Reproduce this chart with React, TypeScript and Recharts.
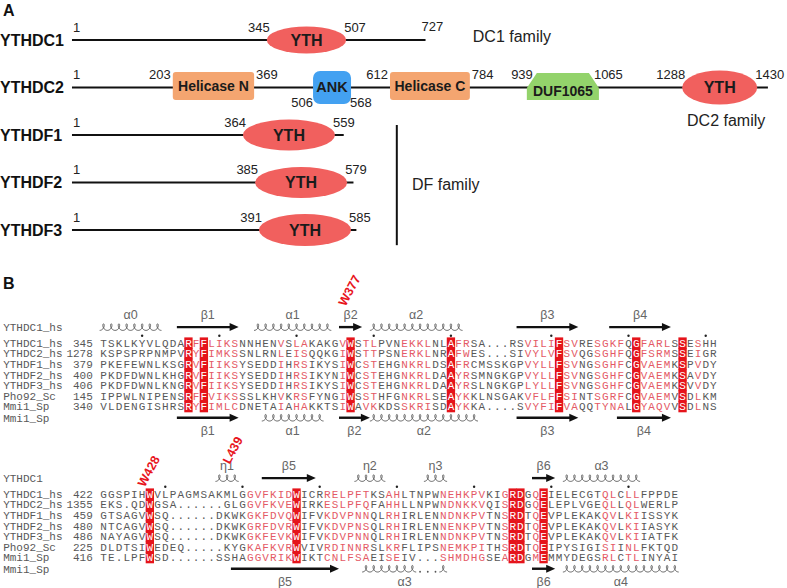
import React from 'react';
import { ScatterChart, Scatter, XAxis, YAxis, ReferenceLine } from 'recharts';

// ---------------- panel A : domain architecture ----------------
const proteinNames = ['YTHDC1', 'YTHDC2', 'YTHDF1', 'YTHDF2', 'YTHDF3'];
const proteinLengths = [727, 1430, 559, 579, 585];

const domainRows = [0, 1, 1, 1, 1, 1, 2, 3, 4];
const domainNames = ['YTH', 'Helicase N', 'ANK', 'Helicase C', 'DUF1065', 'YTH', 'YTH', 'YTH', 'YTH'];
const domainFirst = [345, 203, 506, 612, 939, 1288, 364, 385, 391];
const domainLast = [507, 369, 568, 784, 1065, 1430, 559, 579, 585];
// extent of each box as it is drawn in the figure (residue units, not strictly to scale)
const domainDrawFrom = [401, 208, 496, 654, 935, 1254, 352, 377, 385];
const domainDrawTo = [564, 375, 574, 818, 1083, 1408, 541, 566, 574];

const familyNames = ['DC1 family', 'DC2 family', 'DF family'];
const familyX = [824, 1264, 699];
const familyRow = [-0.08, 1.68, 3.03];
const dfBracketX = 668;
const dfBracketRows = [1.79, 4.32];

// ---------------- panel B : alignment ----------------
const seqNames = ['YTHDC1_hs', 'YTHDC2_hs', 'YTHDF1_hs', 'YTHDF2_hs', 'YTHDF3_hs', 'Pho92_Sc', 'Mmi1_Sp'];

const block1First = [345, 1278, 379, 400, 406, 145, 340];
const block1Seqs = [
  'TSKLKYVLQDARFFLIKSNNHENVSLAKAKGVWSTLPVNEKKLNLAFRSA...RSVILIFSVRESGKFQGFARLSSESHH',
  'KSPSPRPNMPVRYFIMKSSNLRNLEISQQKGIWSTTPSNERKLNRAFWES...SIVYLVFSVQGSGHFQGFSRMSSEIGR',
  'PKEFEWNLKSGRVFIIKSYSEDDIHRSIKYSIWCSTEHGNKRLDSAFRCMSSKGPVYLLFSVNGSGHFCGVAEMKSPVDY',
  'PKDFDWNLKHGRVFIIKSYSEDDIHRSIKYNIWCSTEHGNKRLDAAYRSMNGKGPVYLLFSVNGSGHFCGVAEMKSAVDY',
  'PKDFDWNLKNGRVFIIKSYSEDDIHRSIKYSIWCSTEHGNKRLDAAYRSLNGKGPLYLLFSVNGSGHFCGVAEMKSVVDY',
  'IPPWLNIPENSRFFVIKSSSLKHVKRSFYNGIWSSTHFGNKRLSEAYKKLNSGAKVFLFFSINTSGRFCGVAEMVSDLKM',
  'VLDENGISHRSRYFIMLCDNETAIAHAKKTSIWAVKKDSSKRISDAYKKA....SVYFIFVAQQTYNALGYAQVVSDLNS',
];
const block1Strict = [11, 13, 32, 45, 59, 69, 75];
const block1Similar = [12, 14, 15, 16, 17, 23, 25, 26, 31, 34, 35, 39, 40, 41, 42, 46, 47, 55, 56, 57, 58, 60, 61, 64, 65, 66, 67, 70, 71, 72, 73, 77];
const block1Dots = [5, 15, 25, 35, 45, 58, 68, 78];
const block1TopSS: [string, number, number, string][] = [
  ['helix', 0, 7, 'α0'], ['arrow', 10, 17, 'β1'], ['helix', 20, 29, 'α1'], ['arrow', 31, 33, 'β2'],
  ['helix', 35, 46, 'α2'], ['arrow', 54, 61, 'β3'], ['arrow', 66, 73, 'β4'],
];
const block1BottomSS: [string, number, number, string][] = [
  ['arrow', 10, 17, 'β1'], ['helix', 21, 28, 'α1'], ['arrow', 31, 34, 'β2'], ['helix', 35, 48, 'α2'],
  ['arrow', 54, 61, 'β3'], ['arrow', 67, 73, 'β4'],
];
const block1Marks: [number, string][] = [[32, 'W377']];

const block2First = [422, 1355, 459, 480, 486, 225, 416];
const block2Seqs = [
  'GGSPIHWVLPAGMSAKMLGGVFKIDWICRRELPFTKSAHLTNPWNEHKPVKIGRDGQEIELECGTQLCLLFPPDE',
  'EKS.QDWGSA......GLGGVFKVEWIRKESLPFQFAHHLLNPWNDNKKVQISRDGQELEPLVGEQLLQLWERLP',
  'GTSAGVWSQ......DKWKGKFDVQWIFVKDVPNNQLRHIRLENNDNKPVTNSRDTQEVPLEKAKQVLKIISSYK',
  'NTCAGVWSQ......DKWKGRFDVRWIFVKDVPNSQLRHIRLENNENKPVTNSRDTQEVPLEKAKQVLKIIASYK',
  'NAYAGVWSQ......DKWKGKFEVKWIFVKDVPNNQLRHIRLENNDNKPVTNSRDTQEVPLEKAKQVLKIIATFK',
  'DLDTSIWEDEQ.....KYGKAFKVRWVIVRDINNRSLKRFLIPSNEMKPITHSRDTQEIPYSIGISIINLFKTQD',
  'TE.LPFWSD......SSHAGGVRIKWIKTCNLFSAEISEIV...SHMDHGSEARDGMEMMYDEGSRLCTLINYAI',
];
const block2Strict = [6, 25, 53, 54, 57];
const block2Similar = [19, 20, 21, 22, 23, 24, 29, 30, 31, 32, 33, 34, 37, 38, 44, 45, 46, 47, 48, 49, 52, 56, 65, 66, 68, 69];
const block2Dots = [8, 18, 28, 38, 48, 58, 68];
const block2TopSS: [string, number, number, string][] = [
  ['helix', 15, 17, 'η1'], ['arrow', 21, 27, 'β5'], ['helix', 33, 36, 'η2'], ['helix', 42, 44, 'η3'],
  ['arrow', 56, 58, 'β6'], ['helix', 60, 69, 'α3'],
];
const block2BottomSS: [string, number, number, string][] = [
  ['arrow', 17, 30, 'β5'], ['helixgap', 34, 44, 'α3'], ['arrow', 56, 58, 'β6'], ['helix', 60, 74, 'α4'],
];
const block2Gap = [41, 43];
const block2Marks: [number, string][] = [[6, 'W428'], [17, 'L439']];

// ---------------- styling ----------------
const SANS = "'Liberation Sans', Arial, sans-serif";
const MONO = "'Liberation Mono', monospace";
const YTH_FILL = '#f1605e';
const HELI_FILL = '#f4a570';
const ANK_FILL = '#43a1f1';
const DUF_FILL = '#93d36b';
const HL_RED = '#e5141b';
const PINK = '#e45a66';
const GREY = '#585858';
const YTH_RY = [13.5, 17, 15.5, 15.5, 16]; // ellipse half-height per row, as drawn

const A_X: [number, number] = [-146.8, 1469.2];
const A_Y: [number, number] = [-0.842, 4.632];
const B_X: [number, number] = [-13.41, 88.53];
const ROW_PX = 10.6;
const CELL_W = 7.72;

// ---------------- panel A glyphs ----------------
const DomainGlyph = (p: any) => {
  const { x1, x2, y1, name, row } = p;
  const cx = (x1 + x2) / 2;
  const w = x2 - x1;
  if (name === 'YTH') {
    return (
      <g>
        <ellipse cx={cx} cy={y1} rx={w / 2} ry={YTH_RY[row]} fill={YTH_FILL} />
        <text x={cx} y={y1 + 6} textAnchor="middle" fontFamily={SANS} fontWeight="bold" fontSize={16} fill="#1b1b1b">{name}</text>
      </g>
    );
  }
  if (name === 'ANK') {
    return (
      <g>
        <rect x={x1} y={y1 - 16.5} width={w} height={33} rx={7} fill={ANK_FILL} />
        <text x={cx} y={y1 + 5} textAnchor="middle" fontFamily={SANS} fontWeight="bold" fontSize={14.5} fill="#1b1b1b">{name}</text>
      </g>
    );
  }
  if (name.startsWith('DUF')) {
    const t = y1 - 14.5, b = y1 + 12.5;
    const pts = `${x1},${b} ${x1},${t + 15} ${x1 + 10},${t} ${x2 - 10},${t} ${x2},${t + 15} ${x2},${b}`;
    return (
      <g>
        <polygon points={pts} fill={DUF_FILL} />
        <text x={cx} y={y1 + 9} textAnchor="middle" fontFamily={SANS} fontWeight="bold" fontSize={14} fill="#1b1b1b">{name}</text>
      </g>
    );
  }
  return (
    <g>
      <rect x={x1} y={y1 - 15.5} width={w} height={28} rx={3} fill={HELI_FILL} />
      <text x={cx} y={y1 + 3.5} textAnchor="middle" fontFamily={SANS} fontWeight="bold" fontSize={14} fill="#1b1b1b">{name}</text>
    </g>
  );
};

const NumLabel = (p: any) => {
  const { cx, cy, payload } = p;
  return (
    <text x={cx + payload.dx} y={cy + payload.dy} textAnchor={payload.anchor} fontFamily={SANS} fontSize={13} fill="#222">
      {payload.text}
    </text>
  );
};

const RowName = (p: any) => (
  <text x={p.cx} y={p.cy + 6} fontFamily={SANS} fontWeight="bold" fontSize={16} fill="#111">{p.payload.name}</text>
);

const FamilyLabel = (p: any) => (
  <text x={p.cx} y={p.cy + 6} fontFamily={SANS} fontSize={16} fill="#222">{p.payload.name}</text>
);

const numberLabels = (() => {
  const out: any[] = [];
  proteinNames.forEach((_, i) => out.push({ x: 1, y: i, text: '1', anchor: 'start', dx: 1, dy: -8 }));
  domainNames.forEach((name, i) => {
    const below = name === 'ANK';
    const ell = name === 'YTH';
    const duf = name.startsWith('DUF');
    out.push({ x: domainDrawFrom[i], y: domainRows[i], text: String(domainFirst[i]), anchor: 'end',
      dx: below ? 0 : ell ? 3 : duf ? 6 : -2, dy: below ? 20 : -8 });
    out.push({ x: domainDrawTo[i], y: domainRows[i], text: String(domainLast[i]), anchor: 'start',
      dx: below ? -1 : ell ? -2 : duf ? -5 : 2, dy: below ? 20 : -8 });
  });
  proteinLengths.forEach((len, i) => {
    const closed = domainLast.some((v, j) => domainRows[j] === i && v === len);
    if (!closed) out.push({ x: len, y: i, text: String(len), anchor: 'start', dx: -4, dy: -9 });
  });
  return out;
})();

const PanelA = () => (
  <ScatterChart width={787} height={260} margin={{ top: 0, right: 0, bottom: 0, left: 0 }}>
    <XAxis type="number" dataKey="x" domain={A_X} hide allowDataOverflow />
    <YAxis type="number" dataKey="y" domain={A_Y} hide reversed allowDataOverflow />
    {proteinLengths.map((len, i) => (
      <ReferenceLine key={`bb${i}`} segment={[{ x: 1, y: i }, { x: len, y: i }]} stroke="#111" strokeWidth={2} />
    ))}
    {domainNames.map((name, i) => (
      <ReferenceLine
        key={`d${i}`}
        segment={[{ x: domainDrawFrom[i], y: domainRows[i] }, { x: domainDrawTo[i], y: domainRows[i] }]}
        shape={(p: any) => <DomainGlyph {...p} name={name} row={domainRows[i]} />}
      />
    ))}
    <ReferenceLine segment={[{ x: dfBracketX, y: dfBracketRows[0] }, { x: dfBracketX, y: dfBracketRows[1] }]} stroke="#111" strokeWidth={2} />
    <Scatter data={proteinNames.map((name, i) => ({ x: A_X[0], y: i, name }))} shape={RowName} isAnimationActive={false} />
    <Scatter data={numberLabels} shape={NumLabel} isAnimationActive={false} />
    <Scatter data={familyNames.map((name, i) => ({ x: familyX[i], y: familyRow[i], name }))} shape={FamilyLabel} isAnimationActive={false} />
  </ScatterChart>
);

// ---------------- panel B glyphs ----------------
const helixPath = (x1: number, x2: number, y: number) => {
  const n = Math.max(1, Math.round((x2 - x1) / CELL_W));
  const a = (x2 - x1) / n / (2 * Math.PI);
  const bx = 2.3, by = 3.3;
  let d = '';
  const steps = n * 24;
  for (let i = 0; i <= steps; i++) {
    const t = Math.PI + (i / 24) * 2 * Math.PI;
    const x = x1 + a * (t - Math.PI) - bx * Math.sin(t);
    const yy = y - by * Math.cos(t);
    d += (i === 0 ? 'M' : 'L') + x.toFixed(2) + ',' + yy.toFixed(2);
  }
  return d;
};

const SSGlyph = (p: any) => {
  const { x1, x2, y1, kind, label, below, gap } = p;
  const ly = below ? y1 + 17 : y1 - 8;
  const lab = label ? (
    <text x={(x1 + x2) / 2} y={ly} textAnchor="middle" fontFamily={SANS} fontSize={12.5} fill="#666">{label}</text>
  ) : null;
  if (kind === 'arrow') {
    return (
      <g>
        <line x1={x1} y1={y1} x2={x2 - 7} y2={y1} stroke="#111" strokeWidth={2.4} />
        <polygon points={`${x2 - 9},${y1 - 4} ${x2},${y1} ${x2 - 9},${y1 + 4}`} fill="#111" />
        {lab}
      </g>
    );
  }
  if (kind === 'helixgap' && gap) {
    const colW = (x2 - x1) / (p.to - p.from + 1);
    const g1 = x1 + (gap[0] - p.from) * colW;
    const g2 = x1 + (gap[1] - p.from + 1) * colW;
    return (
      <g>
        <path d={helixPath(x1, g1, y1)} fill="none" stroke="#555" strokeWidth={0.9} />
        {[0, 1, 2].map((k) => (
          <circle key={k} cx={g1 + colW * (k + 0.5)} cy={y1 + 3} r={0.9} fill="#555" />
        ))}
        <path d={helixPath(g2, x2, y1)} fill="none" stroke="#555" strokeWidth={0.9} />
        {lab}
      </g>
    );
  }
  return (
    <g>
      <path d={helixPath(x1, x2, y1)} fill="none" stroke="#555" strokeWidth={0.9} />
      {lab}
    </g>
  );
};

const HlBox = (p: any) => (
  <rect x={p.cx - CELL_W / 2 - 0.3} y={p.cy - 5.6} width={CELL_W + 0.6} height={11.3} fill={HL_RED} />
);

const ResidueText = (p: any) => {
  const { cx, cy, payload } = p;
  const fill = payload.kind === 'strict' ? '#fff' : payload.kind === 'similar' ? PINK : GREY;
  return (
    <text x={cx} y={cy + 3.8} textAnchor="middle" fontFamily={MONO} fontSize={11} fill={fill}>{payload.ch}</text>
  );
};

const MonoLabel = (p: any) => {
  const { cx, cy, payload } = p;
  return (
    <text x={cx + (payload.dx || 0)} y={cy + 3.8} textAnchor={payload.anchor || 'start'} fontFamily={MONO}
      fontSize={11} fill={GREY}>{payload.text}</text>
  );
};

const Dot = (p: any) => <circle cx={p.cx} cy={p.cy} r={1.2} fill="#222" />;

const MarkLabel = (p: any) => {
  const { cx, cy, payload } = p;
  const x = cx - 5;
  return (
    <text x={x} y={cy} transform={`rotate(-62 ${x} ${cy})`} fontFamily={SANS} fontWeight="bold" fontSize={12.5} fill="#e8141c">
      {payload.text}
    </text>
  );
};

type SS = [string, number, number, string][];

const Block = ({ seqs, first, strict, similar, dots, topSS, bottomSS, topName, marks, markRows, gap, height, row0 }: {
  seqs: string[]; first: number[]; strict: number[]; similar: number[]; dots: number[];
  topSS: SS; bottomSS: SS; topName: string; marks: [number, string][]; markRows: number[]; gap?: number[];
  height: number; row0: number;
}) => {
  const yDomain: [number, number] = [-row0 / ROW_PX, (height - row0) / ROW_PX];
  const residues = seqs.flatMap((s, r) =>
    s.split('').map((ch, c) => ({
      x: c, y: r, ch,
      kind: ch === '.' ? 'gap' : strict.includes(c) ? 'strict' : similar.includes(c) ? 'similar' : 'plain',
    })),
  );
  const labels = [
    { x: -13, y: -1.45, text: topName },
    ...seqNames.map((n, i) => ({ x: -13, y: i, text: n })),
    ...first.map((f, i) => ({ x: -1, y: i, text: String(f), anchor: 'end', dx: -3 })),
    { x: -13, y: 7.05, text: seqNames[6] },
  ];
  return (
    <ScatterChart width={787} height={height} margin={{ top: 0, right: 0, bottom: 0, left: 0 }}>
      <XAxis type="number" dataKey="x" domain={B_X} hide allowDataOverflow />
      <YAxis type="number" dataKey="y" domain={yDomain} hide reversed allowDataOverflow />
      {topSS.map(([kind, from, to, label], i) => (
        <ReferenceLine key={`t${i}`} segment={[{ x: from - 0.5, y: -1.5 }, { x: to + 0.5, y: -1.5 }]}
          shape={(p: any) => <SSGlyph {...p} kind={kind} label={label} from={from} to={to} />} />
      ))}
      {bottomSS.map(([kind, from, to, label], i) => (
        <ReferenceLine key={`b${i}`} segment={[{ x: from - 0.5, y: 7.05 }, { x: to + 0.5, y: 7.05 }]}
          shape={(p: any) => <SSGlyph {...p} kind={kind} label={label} from={from} to={to} below gap={gap} />} />
      ))}
      <Scatter data={residues.filter((d) => d.kind === 'strict')} shape={HlBox} isAnimationActive={false} />
      <Scatter data={residues} shape={ResidueText} isAnimationActive={false} />
      <Scatter data={labels} shape={MonoLabel} isAnimationActive={false} />
      <Scatter data={dots.map((c) => ({ x: c, y: -0.68 }))} shape={Dot} isAnimationActive={false} />
      <Scatter data={marks.map(([c, text], i) => ({ x: c, y: markRows[i], text }))} shape={MarkLabel} isAnimationActive={false} />
    </ScatterChart>
  );
};

export default function App() {
  return (
    <div style={{ position: 'absolute', left: 0, top: 0, width: 787, height: 588, background: '#fff', overflow: 'hidden' }}>
      <svg width={787} height={300} style={{ position: 'absolute', left: 0, top: 0 }}>
        <text x={3} y={16} fontFamily={SANS} fontWeight="bold" fontSize={16} fill="#111">A</text>
        <text x={3} y={289} fontFamily={SANS} fontWeight="bold" fontSize={16} fill="#111">B</text>
      </svg>
      <div style={{ position: 'absolute', left: 0, top: 0 }}>
        <PanelA />
      </div>
      <div style={{ position: 'absolute', left: 0, top: 265 }}>
        <Block seqs={block1Seqs} first={block1First} strict={block1Strict} similar={block1Similar} dots={block1Dots}
          topSS={block1TopSS} bottomSS={block1BottomSS} topName="YTHDC1_hs" marks={block1Marks} markRows={[-3.4]}
          height={172} row0={78} />
      </div>
      <div style={{ position: 'absolute', left: 0, top: 437 }}>
        <Block seqs={block2Seqs} first={block2First} strict={block2Strict} similar={block2Similar} dots={block2Dots}
          topSS={block2TopSS} bottomSS={block2BottomSS} topName="YTHDC1" marks={block2Marks} markRows={[-0.6, -2.75]}
          gap={block2Gap} height={151} row0={57} />
      </div>
    </div>
  );
}
